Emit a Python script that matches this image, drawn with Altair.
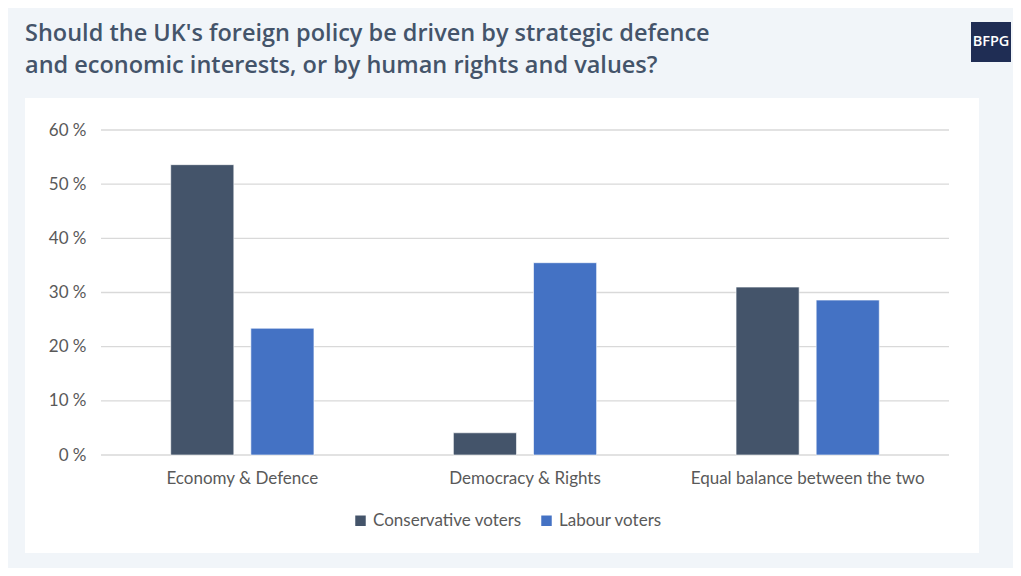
import altair as alt
import pandas as pd

categories = ["Economy & Defence", "Democracy & Rights", "Equal balance between the two"]
groups = ["Conservative voters", "Labour voters"]
conservative = [53.6, 4.1, 31.0]
labour = [23.4, 35.5, 28.6]
y_ticks = [0, 10, 20, 30, 40, 50, 60]
title_lines = ["Should the UK's foreign policy be driven by strategic defence",
               "and economic interests, or by human rights and values?"]
logo_text = "BFPG"

rows = []
for c, v in zip(categories, conservative):
    rows.append({"category": c, "group": groups[0], "value": v})
for c, v in zip(categories, labour):
    rows.append({"category": c, "group": groups[1], "value": v})
df = pd.DataFrame(rows)
grid_df = pd.DataFrame({"tick": y_ticks})

W, H = 848, 325
BG = "#f1f5f9"
TITLE_COLOR = "#44546a"
LABEL_COLOR = "#595959"
FONT = "Lato"

panel = alt.Chart(pd.DataFrame({"a": [0]})).mark_rect(color="white").encode(
    x=alt.value(-76), x2=alt.value(878), y=alt.value(-32), y2=alt.value(423)
)

grid = alt.Chart(grid_df).mark_rule(color="#d9d9d9", strokeWidth=1.3).encode(
    y=alt.Y("tick:Q", scale=alt.Scale(domain=[0, 60])),
    x=alt.value(0), x2=alt.value(W),
)

bars = alt.Chart(df).mark_bar(stroke="white", strokeWidth=0.6).encode(
    x=alt.X("category:N", sort=categories,
            scale=alt.Scale(paddingInner=0, paddingOuter=0),
            axis=alt.Axis(title=None, labelAngle=0, domain=False, ticks=False,
                          labelFont=FONT, labelFontSize=17, labelColor=LABEL_COLOR,
                          labelPadding=15, labelLimit=0, zindex=1)),
    xOffset=alt.XOffset("group:N", sort=groups,
                        scale=alt.Scale(paddingInner=0.2125, paddingOuter=0.87)),
    y=alt.Y("value:Q", scale=alt.Scale(domain=[0, 60], nice=False),
            axis=alt.Axis(title=None, values=y_ticks, labelExpr="datum.value + ' %'",
                          grid=False, domain=False, ticks=False,
                          labelFont=FONT, labelFontSize=17, labelColor=LABEL_COLOR,
                          labelPadding=15, zindex=1)),
    color=alt.Color("group:N", sort=groups,
                    scale=alt.Scale(domain=groups, range=["#44546a", "#4472c4"]),
                    legend=alt.Legend(title=None, orient="none", direction="horizontal",
                                      legendX=251, legendY=382,
                                      symbolType="square", symbolSize=110,
                                      symbolStrokeWidth=0, labelFont=FONT,
                                      labelFontSize=17, labelColor=LABEL_COLOR,
                                      columnPadding=16, labelOffset=4, zindex=1)),
)

title_df = pd.DataFrame({"text": title_lines, "line": [0, 1]})
title = alt.Chart(title_df).mark_text(
    align="left", baseline="alphabetic", font="Open Sans", fontSize=23.5,
    fontWeight=600, color=TITLE_COLOR
).encode(
    text="text:N",
    x=alt.value(-76),
    y=alt.value(-89),
).transform_filter("datum.line == 0")
title2 = alt.Chart(title_df).mark_text(
    align="left", baseline="alphabetic", font="Open Sans", fontSize=23.5,
    fontWeight=600, color=TITLE_COLOR
).encode(
    text="text:N",
    x=alt.value(-76),
    y=alt.value(-57),
).transform_filter("datum.line == 1")

logo_box = alt.Chart(pd.DataFrame({"a": [0]})).mark_rect(color="#1f2d54").encode(
    x=alt.value(870), x2=alt.value(910), y=alt.value(-108), y2=alt.value(-68)
)
logo = alt.Chart(pd.DataFrame({"t": [logo_text]})).mark_text(
    font="Open Sans", fontSize=14.5, fontWeight=600, color="white",
    align="center", baseline="middle"
).encode(text="t:N", x=alt.value(890), y=alt.value(-88))

chart = alt.layer(panel, grid, bars, title, title2, logo_box, logo).properties(
    width=W, height=H,
    background=BG,
    padding={"left": 93, "top": 122, "right": 64, "bottom": 113},
    autosize=alt.AutoSizeParams(type="none"),
).configure_view(stroke=None)

chart.save("out.html", embed_options={"renderer": "svg", "actions": False})
